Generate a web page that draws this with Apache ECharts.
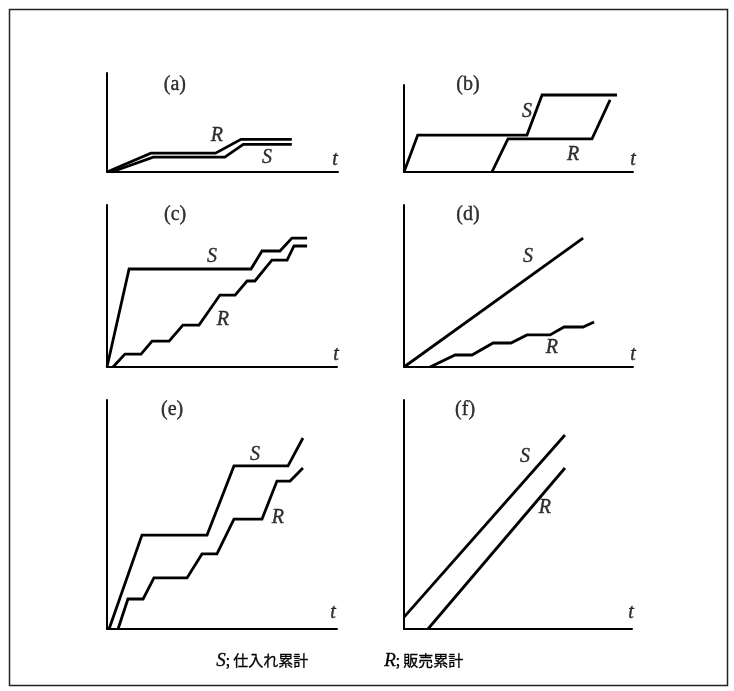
<!DOCTYPE html>
<html>
<head>
<meta charset="utf-8">
<script src="https://cdn.jsdelivr.net/npm/echarts@6/dist/echarts.min.js"></script>
<style>
  html, body { margin: 0; padding: 0; background: #fff; }
  #chart { width: 734px; height: 691px; }
</style>
</head>
<body>
<div id="chart"></div>
<script>
// Six sketches of cumulative purchases (S) and cumulative sales (R) over time t.
// Values are in axis units: t runs 0..100 along each x axis, the amount 0..100 up each y axis.
const panelTags = ['(a)', '(b)', '(c)', '(d)', '(e)', '(f)'];

const supplyA = [[2, 0], [20, 15], [51, 15], [59, 28], [80, 28]];
const salesA  = [[0, 0], [19, 19], [47, 19], [58, 33], [80, 33]];

const supplyB = [[0, 0], [6, 42.5], [53.7, 42.5], [60.3, 88.5], [93, 88.5]];
const salesB  = [[38.4, 0], [45.4, 38], [82.1, 38], [90, 82.8]];

const supplyC = [[0, 0], [9.6, 60.5], [62.6, 60.5], [67.4, 71.6], [75.2, 71.6], [80.4, 79.6], [87, 79.6]];
const salesC  = [[2.6, 0], [7.8, 8], [14.8, 8], [19.6, 16], [27, 16], [33, 25.9], [40, 25.9],
                 [49.1, 44.4], [55.7, 44.4], [60.9, 53.1], [64.3, 53.1], [71.7, 66],
                 [78.3, 66], [81.3, 74.7], [87, 74.7]];

const supplyD = [[0, 0], [78.2, 79.6]];
const salesD  = [[11.4, 0], [22.3, 7.4], [29.7, 7.4], [38.9, 14.8], [46.7, 14.8], [53.7, 19.8],
                 [63.8, 19.8], [69.9, 24.7], [78.2, 24.7], [83, 27.8]];

const supplyE = [[0.9, 0], [15.2, 41], [43.5, 41], [55.2, 71.2], [78.7, 71.2], [85.2, 83.4]];
const salesE  = [[4.8, 0], [9.1, 13.1], [15.7, 13.1], [20.4, 22.3], [34.8, 22.3], [41.3, 32.8],
                 [47.8, 32.8], [55.2, 48], [67.4, 48], [73.9, 64.6], [79.6, 64.6], [85.2, 70.3]];

const supplyF = [[0, 5.2], [70.6, 84.7]];
const salesF  = [[10.5, 0], [70.6, 70.3]];

const supplyLines = [supplyA, supplyB, supplyC, supplyD, supplyE, supplyF];
const salesLines  = [salesA, salesB, salesC, salesD, salesE, salesF];

const captionParts = [['S', '; 仕入れ累計'], ['R', '; 販売累計']];

// ---- layout ----
const boxes = [
  { left: 107, top: 73,  width: 231, height: 99 },
  { left: 404, top: 85,  width: 229, height: 87 },
  { left: 107, top: 205, width: 230, height: 162 },
  { left: 404, top: 205, width: 229, height: 162 },
  { left: 107, top: 400, width: 230, height: 229 },
  { left: 404, top: 400, width: 228, height: 229 }
];
// anchor points (axis units) for tag, S, R and t labels of each panel
const anchors = [
  { tag: [29.4, 88], S: [69.3, 14], R: [47.6, 36.4], t: [98.7, 12] },
  { tag: [27.9, 100], S: [53.7, 69], R: [73.8, 19.5], t: [100, 13.8] },
  { tag: [29.6, 93.8], S: [45.7, 67.9], R: [50.4, 29], t: [99.6, 7.4] },
  { tag: [27.9, 93.8], S: [54.1, 67.9], R: [64.6, 11.7], t: [100, 7.4] },
  { tag: [28.3, 95.6], S: [64.3, 76], R: [74.3, 48.5], t: [98.3, 7] },
  { tag: [26.8, 95.6], S: [53.1, 75.1], R: [61.8, 52.8], t: [99.6, 7] }
];

const serif = '"Liberation Serif", "DejaVu Serif", serif';
const ink = '#000';

const grid = [], xAxis = [], yAxis = [], series = [];
boxes.forEach((b, i) => {
  grid.push(Object.assign({ containLabel: false }, b));
  const axisCommon = {
    type: 'value', gridIndex: i, min: 0, max: 100,
    axisLine: { show: true, onZero: false, lineStyle: { color: ink, width: 2 } },
    axisTick: { show: false }, axisLabel: { show: false }, splitLine: { show: false }
  };
  xAxis.push(Object.assign({}, axisCommon));
  yAxis.push(Object.assign({}, axisCommon));

  const lineStyle = { color: ink, width: 2.8, join: 'miter', cap: 'butt' };
  series.push({
    type: 'line', name: 'S', xAxisIndex: i, yAxisIndex: i, data: supplyLines[i],
    symbol: 'none', lineStyle, clip: false, silent: true
  });
  series.push({
    type: 'line', name: 'R', xAxisIndex: i, yAxisIndex: i, data: salesLines[i],
    symbol: 'none', lineStyle, clip: false, silent: true
  });

  const a = anchors[i];
  const italicLabel = { fontFamily: serif, fontStyle: 'italic', fontSize: 20, color: ink,
                        textBorderColor: ink, textBorderWidth: 0.4 };
  series.push({
    type: 'scatter', xAxisIndex: i, yAxisIndex: i, symbolSize: 0, silent: true, clip: false,
    label: { show: true, position: 'inside', formatter: '{b}' },
    data: [
      { name: panelTags[i], value: a.tag,
        label: { fontFamily: serif, fontSize: 20, color: ink, textBorderColor: ink, textBorderWidth: 0.4 } },
      { name: 'S', value: a.S, label: italicLabel },
      { name: 'R', value: a.R, label: italicLabel },
      { name: 't', value: a.t, label: italicLabel }
    ]
  });
});

const captionStyle = {
  rich: {
    it: { fontFamily: serif, fontStyle: 'italic', fontSize: 19, fill: ink },
    jp: { fontFamily: '"Noto Sans CJK JP", sans-serif', fontSize: 15, fill: ink }
  },
  stroke: ink,
  lineWidth: 0.3
};

const chart = echarts.init(document.getElementById('chart'), null, { renderer: 'canvas' });
chart.setOption({
  animation: false,
  backgroundColor: '#fff',
  grid, xAxis, yAxis, series,
  graphic: [
    { type: 'rect', shape: { x: 9.5, y: 9.5, width: 718, height: 676 },
      style: { fill: 'none', stroke: '#222', lineWidth: 1.5 }, silent: true },
    { type: 'text', left: 216, top: 651,
      style: Object.assign({ text: '{it|' + captionParts[0][0] + '}{jp|' + captionParts[0][1] + '}' }, captionStyle) },
    { type: 'text', left: 384, top: 651,
      style: Object.assign({ text: '{it|' + captionParts[1][0] + '}{jp|' + captionParts[1][1] + '}' }, captionStyle) }
  ]
});
</script>
</body>
</html>
